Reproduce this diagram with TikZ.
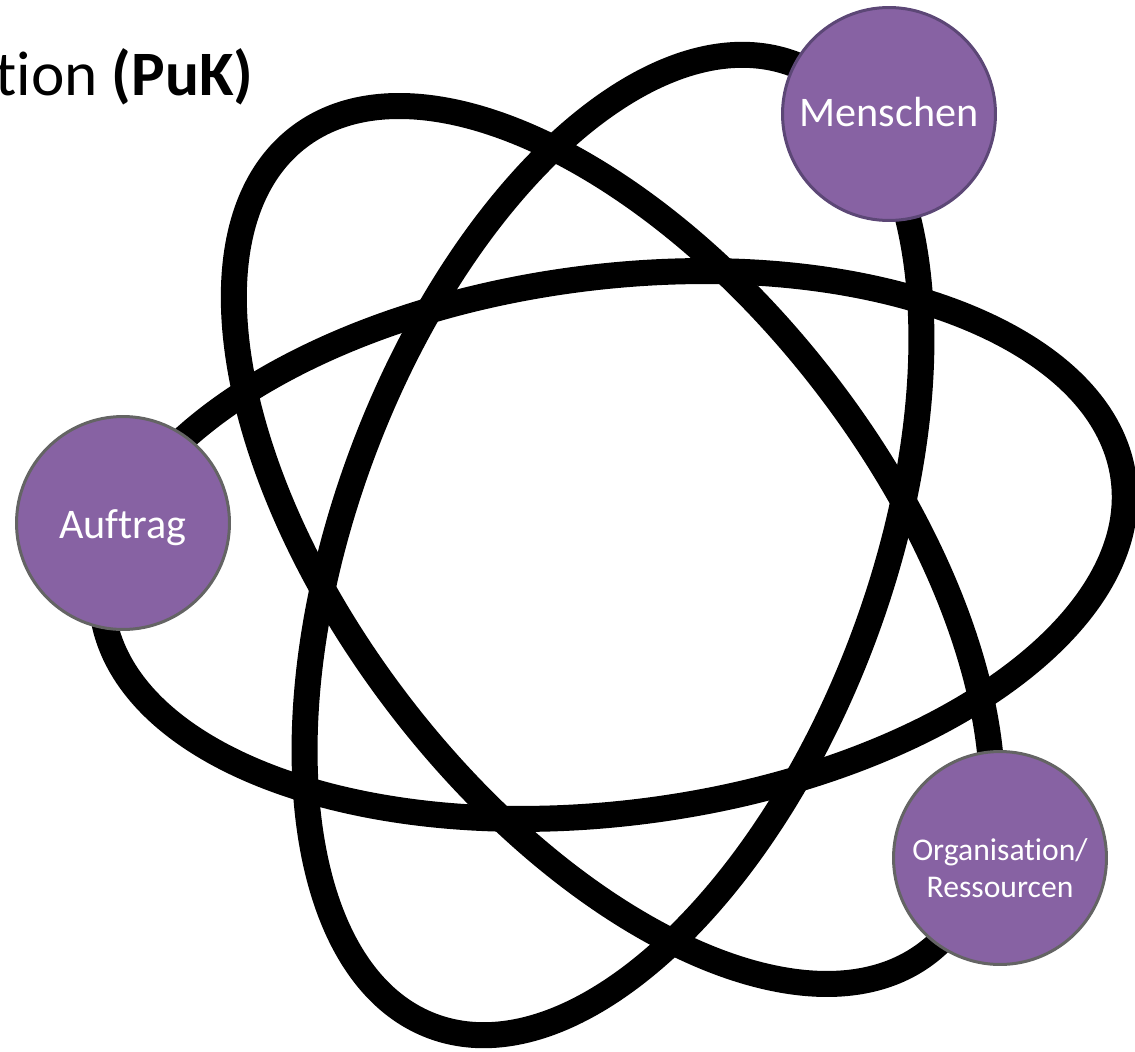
\documentclass[tikz,border=0pt]{standalone}
\usepackage{fontspec}
\setmainfont[Ligatures=NoCommon]{Carlito}
\definecolor{puk}{HTML}{8762A3}
\definecolor{pukdark}{HTML}{5C4776}
\definecolor{rimgray}{HTML}{646464}
\begin{document}
\begin{tikzpicture}[x=0.02cm,y=-0.02cm,
  orbit/.style={draw=black,line width=0.52cm},
  elem/.style={circle,fill=puk,draw=rimgray,line width=0.06cm,minimum size=4.26cm,inner sep=0pt,text=white,align=center,font=\fontsize{24}{29}\selectfont},
]
\useasboundingbox (0,0) rectangle (1135,1051);
\coordinate (ctr) at (613,545);
\draw[orbit, rotate around={7.4:(ctr)}] (ctr) ellipse [x radius=10.3cm, y radius=5.36cm];
\draw[orbit, rotate around={-52.3:(ctr)}] (ctr) ellipse [x radius=10.3cm, y radius=5.34cm];
\draw[orbit, rotate around={69.4:(ctr)}] (ctr) ellipse [x radius=10.28cm, y radius=5.34cm];
\node[elem] (auftrag) at (123,523) {\raisebox{-0.3cm}[0pt][0pt]{Auftrag}};
\node[elem, draw=pukdark] (menschen) at (889,114) {\raisebox{-0.26cm}[0pt][0pt]{Menschen}};
\node[elem, font=\fontsize{18}{21.5}\selectfont] (orga) at (1000,858) {\raisebox{-0.04cm}[0pt][0pt]{\begin{tabular}[t]{@{}c@{}}Organisation/\\Ressourcen\end{tabular}}};
\node[anchor=base west, inner sep=0pt, font=\fontsize{36}{43}\selectfont] (title) at (-5,95) {tion \textbf{(PuK)}};
\end{tikzpicture}
\end{document}
